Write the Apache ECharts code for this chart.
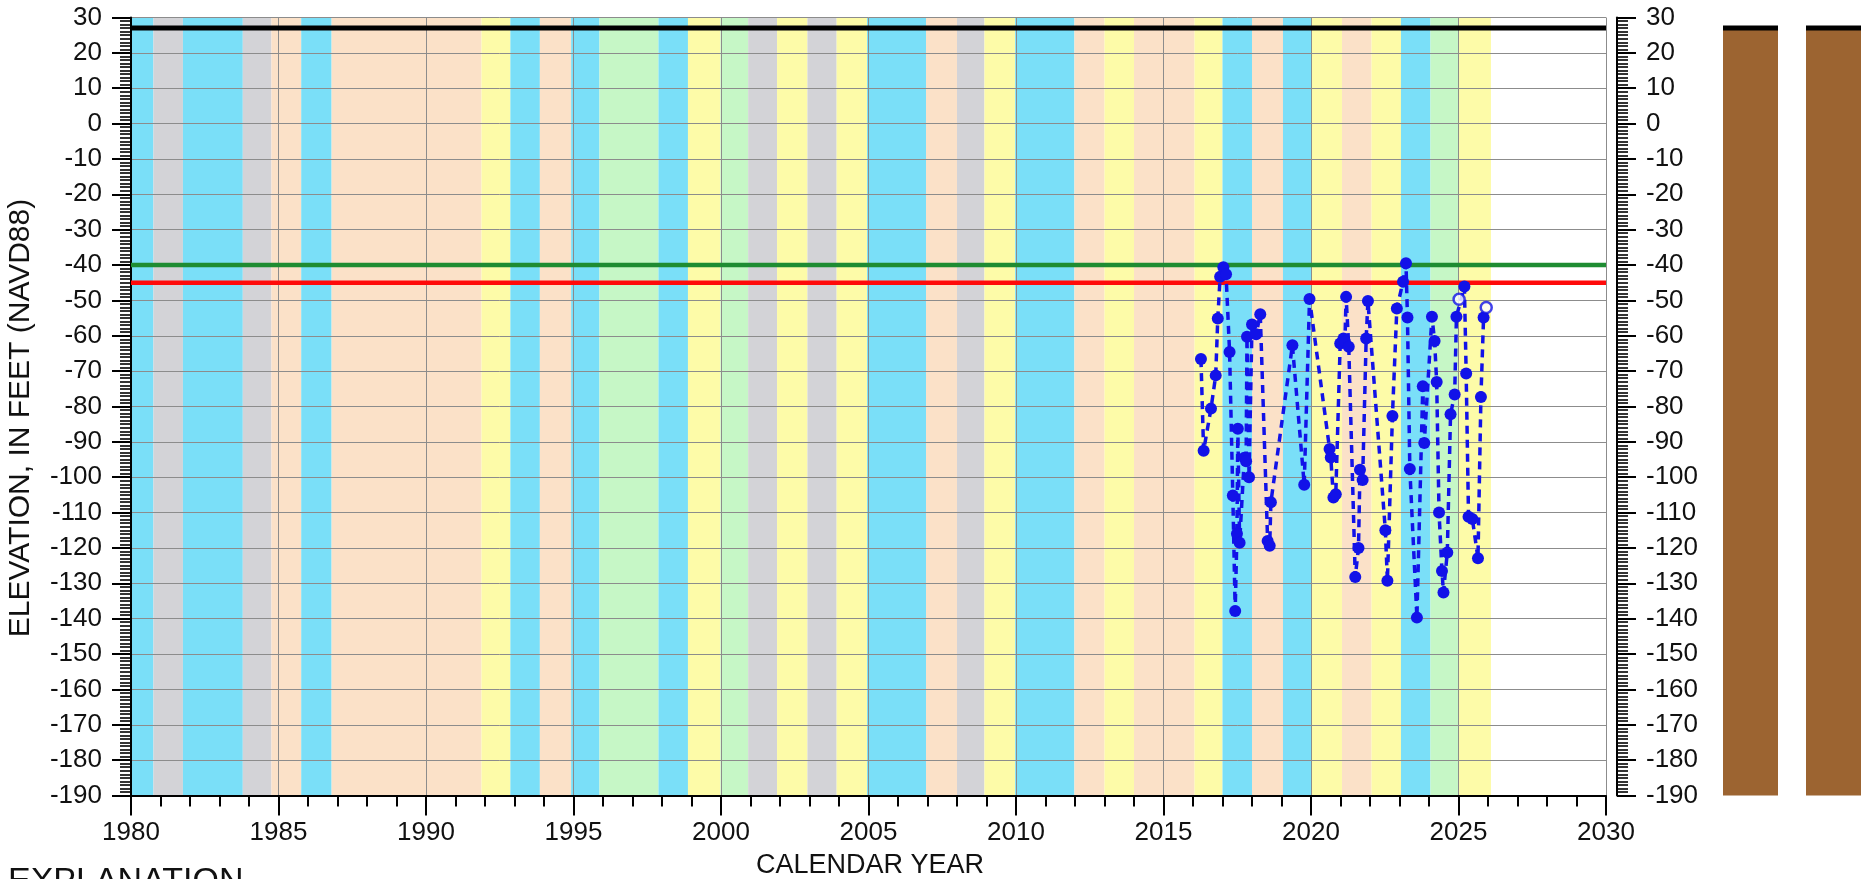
<!DOCTYPE html>
<html><head><meta charset="utf-8">
<script src="https://cdn.jsdelivr.net/npm/echarts@6/dist/echarts.min.js"></script>
<style>html,body{margin:0;padding:0;background:#fff}#c{width:1865px;height:879px}</style>
</head><body><div id="c"></div>
<script>
// Water-year shading bands (edges in decimal years) and type of each band
const bandEdges = [1980, 1980.76, 1981.76, 1983.79, 1984.76, 1985.77, 1986.8, 1991.88, 1992.86, 1993.86,
  1994.92, 1995.88, 1997.88, 1998.88, 1999.98, 2000.92, 2001.9, 2002.93, 2003.92, 2004.95,
  2006.95, 2008.0, 2008.93, 2009.97, 2011.98, 2013.0, 2014.0, 2016.05, 2017.0, 2018.0,
  2019.05, 2020.0, 2021.05, 2022.05, 2023.05, 2024.05, 2025.0, 2026.1];
const bandTypes = ['W','C','W','C','D','W','D','BN','W','D',
  'W','AN','W','BN','AN','C','BN','C','BN','W',
  'D','C','BN','W','D','BN','D','BN','W','D',
  'W','BN','D','BN','W','AN','BN'];
const typeColors = {W:'#7ADFF8', AN:'#C6F7C6', BN:'#FDFBA8', D:'#FBE1C8', C:'#D3D3D7'};

// Measured water-level elevations
const obsYears = [2016.27, 2016.36, 2016.61, 2016.77, 2016.84, 2016.92, 2017.03, 2017.12, 2017.24, 2017.35,
  2017.43, 2017.49, 2017.52, 2017.58, 2017.74, 2017.80, 2017.83, 2017.90, 2018.00, 2018.14,
  2018.28, 2018.53, 2018.60, 2018.64, 2019.37, 2019.77, 2019.95, 2020.63, 2020.67, 2020.76,
  2020.84, 2020.99, 2021.10, 2021.15, 2021.19, 2021.28, 2021.50, 2021.61, 2021.66, 2021.75,
  2021.87, 2021.93, 2022.52, 2022.59, 2022.76, 2022.91, 2023.12, 2023.22, 2023.27, 2023.35,
  2023.59, 2023.79, 2023.84, 2024.10, 2024.19, 2024.26, 2024.34, 2024.44, 2024.49, 2024.62,
  2024.73, 2024.87, 2024.93, 2025.20, 2025.26, 2025.34, 2025.47, 2025.66, 2025.76, 2025.85];
const obsElev = [-66.6, -92.5, -80.6, -71.2, -55.1, -43.3, -40.6, -42.6, -64.6, -105.2,
  -137.8, -116.0, -86.3, -118.5, -94.5, -95.5, -60.3, -100.0, -56.8, -59.6,
  -53.9, -118.0, -119.4, -107.1, -62.7, -102.1, -49.6, -92.0, -94.4, -105.7,
  -104.8, -62.2, -60.8, -61.7, -49.0, -63.1, -128.2, -120.0, -97.9, -100.8,
  -60.8, -50.2, -115.0, -129.3, -82.7, -52.3, -44.7, -39.5, -54.8, -97.7,
  -139.7, -74.3, -90.3, -54.6, -61.5, -73.1, -110.0, -126.5, -132.6, -121.3,
  -82.2, -76.6, -54.6, -46.1, -70.7, -111.2, -111.8, -122.9, -77.3, -54.8];
// Open-circle measurements
const openYears = [2025.02, 2025.94];
const openElev = [-49.7, -52.0];

// Reference levels
const landSurface = 27;
const greenLevel = -40;
const redLevel = -45;
const wellTop = 27, wellBottom = -190;

const xMin = 1980, xMax = 2030, xStep = 5;
const yMin = -190, yMax = 30, yStep = 10;

const FONT = '"Liberation Sans", Arial, sans-serif';
const BLUE = '#1212E8';

const chart = echarts.init(document.getElementById('c'), null, {renderer: 'canvas'});

const gridTop = 17.5, gridH = 778;
const axisLabelBase = {fontSize: 26, color: '#111', fontFamily: FONT};

function yAxisCfg(gridIndex, position, offset, showLabels, showSplit) {
  return {
    gridIndex, type: 'value', min: yMin, max: yMax, interval: yStep, position, offset,
    z: 3,
    axisLine: {show: showLabels, onZero: false, lineStyle: {color: '#000', width: 2}},
    axisTick: {show: showLabels, inside: false, length: 19, lineStyle: {color: '#000', width: 2}},
    minorTick: {show: showLabels, splitNumber: 10, length: 11, lineStyle: {color: '#000', width: 1.6}},
    axisLabel: Object.assign({show: showLabels, margin: 29}, axisLabelBase),
    splitLine: {show: showSplit, lineStyle: {color: '#8c8c8c', width: 1}}
  };
}

const bandData = bandTypes.map((t, i) => [bandEdges[i], bandEdges[i + 1], i]);

const option = {
  animation: false,
  backgroundColor: '#fff',
  grid: [
    {left: 131, top: gridTop, width: 1475, height: gridH},
    {left: 1723, top: gridTop, width: 55, height: gridH},
    {left: 1806, top: gridTop, width: 55, height: gridH}
  ],
  xAxis: [
    {
      gridIndex: 0, type: 'value', min: xMin, max: xMax, interval: xStep, z: 3,
      axisLine: {onZero: false, lineStyle: {color: '#000', width: 2}},
      axisTick: {length: 20, lineStyle: {color: '#000', width: 2}},
      minorTick: {show: true, splitNumber: 5, length: 11, lineStyle: {color: '#000', width: 2}},
      axisLabel: Object.assign({margin: 24, formatter: v => String(v)}, axisLabelBase),
      splitLine: {show: true, lineStyle: {color: '#8c8c8c', width: 1}}
    },
    {gridIndex: 1, type: 'value', min: 0, max: 1, show: false},
    {gridIndex: 2, type: 'value', min: 0, max: 1, show: false}
  ],
  yAxis: [
    yAxisCfg(0, 'left', 0, true, true),
    yAxisCfg(0, 'right', 11, true, false),
    Object.assign(yAxisCfg(1, 'left', 0, false, false), {show: false}),
    Object.assign(yAxisCfg(2, 'left', 0, false, false), {show: false})
  ],
  graphic: [
    {type: 'text', x: 21, y: 418, rotation: Math.PI / 2,
     style: {text: 'ELEVATION, IN FEET (NAVD88)', font: '30px ' + FONT, fill: '#111', textAlign: 'center', textVerticalAlign: 'middle'}},
    {type: 'text', x: 870, y: 866,
     style: {text: 'CALENDAR YEAR', font: '27px ' + FONT, fill: '#111', textAlign: 'center', textVerticalAlign: 'middle'}},
    {type: 'text', x: 8, y: 882,
     style: {text: 'EXPLANATION', font: '34px ' + FONT, fill: '#111', textAlign: 'left', textVerticalAlign: 'middle'}}
  ],
  series: [
    {
      type: 'custom', xAxisIndex: 0, yAxisIndex: 0, z: 1, silent: true,
      data: bandData,
      encode: {x: [0, 1]},
      renderItem: function (params, api) {
        const p0 = api.coord([api.value(0), yMax]);
        const p1 = api.coord([api.value(1), yMin]);
        return {type: 'rect', shape: {x: p0[0], y: p0[1], width: p1[0] - p0[0], height: p1[1] - p0[1]},
          style: {fill: typeColors[bandTypes[api.value(2)]]}};
      }
    },
    {type: 'line', xAxisIndex: 0, yAxisIndex: 0, z: 4, symbol: 'none', silent: true,
     data: [[xMin, landSurface], [xMax, landSurface]], lineStyle: {color: '#000', width: 5}},
    {type: 'line', xAxisIndex: 0, yAxisIndex: 0, z: 4, symbol: 'none', silent: true,
     data: [[xMin, greenLevel], [xMax, greenLevel]], lineStyle: {color: '#1E8C32', width: 4.5}},
    {type: 'line', xAxisIndex: 0, yAxisIndex: 0, z: 4, symbol: 'none', silent: true,
     data: [[xMin, redLevel], [xMax, redLevel]], lineStyle: {color: '#FF0A0A', width: 4.5}},
    {type: 'line', xAxisIndex: 0, yAxisIndex: 0, z: 6,
     data: obsYears.map((x, i) => [x, obsElev[i]]),
     symbol: 'circle', symbolSize: 12, showSymbol: true,
     itemStyle: {color: BLUE},
     lineStyle: {color: BLUE, width: 3.5, type: [8, 6]}},
    {type: 'scatter', xAxisIndex: 0, yAxisIndex: 0, z: 7,
     data: openYears.map((x, i) => [x, openElev[i]]),
     symbol: 'circle', symbolSize: 11,
     itemStyle: {color: '#fff', borderColor: BLUE, borderWidth: 2.5}},
    // Well columns
    {type: 'line', xAxisIndex: 1, yAxisIndex: 2, z: 2, symbol: 'none', silent: true,
     data: [[0, wellTop], [1, wellTop]], lineStyle: {color: '#000', width: 5},
     markArea: {silent: true, itemStyle: {color: '#9C6431'}, data: [[{xAxis: 0, yAxis: wellBottom}, {xAxis: 1, yAxis: wellTop}]]}},
    {type: 'line', xAxisIndex: 2, yAxisIndex: 3, z: 2, symbol: 'none', silent: true,
     data: [[0, wellTop], [1, wellTop]], lineStyle: {color: '#000', width: 5},
     markArea: {silent: true, itemStyle: {color: '#9C6431'}, data: [[{xAxis: 0, yAxis: wellBottom}, {xAxis: 1, yAxis: wellTop}]]}}
  ]
};
chart.setOption(option);
</script></body></html>
